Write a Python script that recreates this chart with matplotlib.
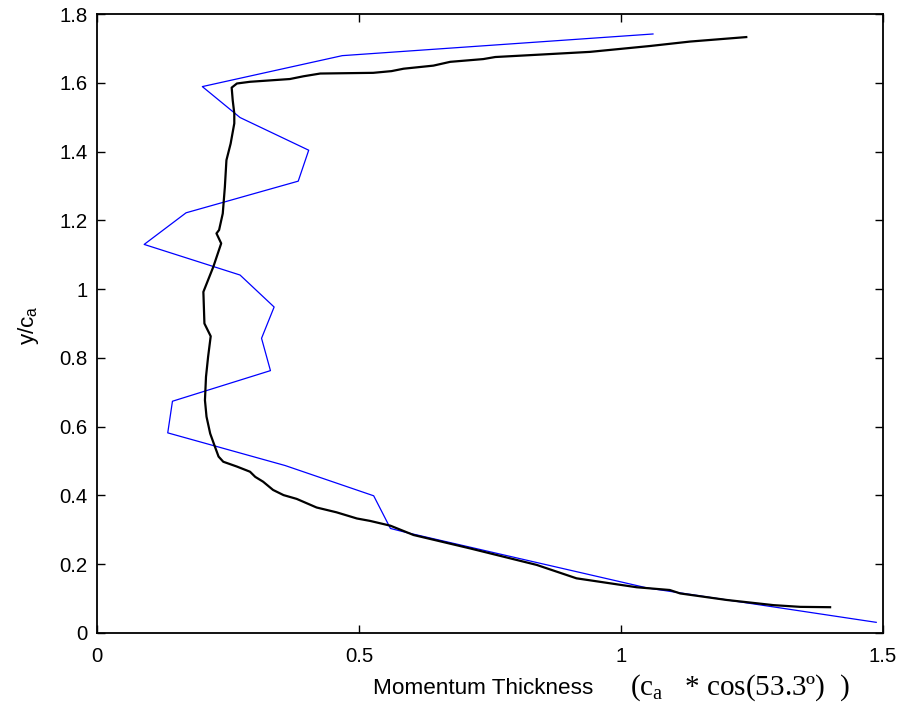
import matplotlib
matplotlib.use('Agg')
import matplotlib.pyplot as plt

plt.rcParams['font.family'] = ['Liberation Sans', 'DejaVu Sans']

# blue profile (coarse)
blue_x = [1.061, 0.468, 0.201, 0.273, 0.404, 0.384, 0.170, 0.090, 0.273, 0.338,
          0.314, 0.331, 0.144, 0.135, 0.359, 0.528, 0.560, 0.591, 1.050, 1.487]
blue_y = [1.742, 1.679, 1.589, 1.499, 1.404, 1.314, 1.222, 1.130, 1.041, 0.948,
          0.857, 0.763, 0.674, 0.582, 0.487, 0.399, 0.304, 0.292, 0.131, 0.031]

# black profile (fine)
black_x = [1.239, 1.132, 1.055, 0.941, 0.845, 0.760, 0.737, 0.674, 0.642, 0.585,
           0.562, 0.527, 0.426, 0.394, 0.368, 0.292, 0.267, 0.257, 0.259, 0.262,
           0.262, 0.255, 0.247, 0.244, 0.240, 0.233, 0.228, 0.237, 0.222, 0.203,
           0.205, 0.217, 0.212, 0.208, 0.206, 0.209, 0.216, 0.225, 0.232, 0.241,
           0.267, 0.292, 0.302, 0.317, 0.336, 0.356, 0.381, 0.419, 0.457, 0.496,
           0.521, 0.560, 0.604, 0.712, 0.839, 0.915, 1.030, 1.093, 1.113, 1.202,
           1.291, 1.342, 1.399]
black_y = [1.733, 1.720, 1.707, 1.690, 1.682, 1.675, 1.669, 1.661, 1.650, 1.641,
           1.634, 1.629, 1.627, 1.619, 1.611, 1.603, 1.598, 1.586, 1.549, 1.511,
           1.482, 1.423, 1.375, 1.297, 1.220, 1.172, 1.162, 1.133, 1.065, 0.992,
           0.900, 0.863, 0.803, 0.745, 0.677, 0.629, 0.580, 0.542, 0.513, 0.498,
           0.484, 0.469, 0.454, 0.440, 0.416, 0.401, 0.390, 0.365, 0.351, 0.333,
           0.326, 0.312, 0.285, 0.246, 0.198, 0.159, 0.133, 0.125, 0.115, 0.096,
           0.081, 0.076, 0.075]

x_ticks = [0, 0.5, 1, 1.5]
x_labels = ['0', '0.5', '1', '1.5']
y_ticks = [0, 0.2, 0.4, 0.6, 0.8, 1.0, 1.2, 1.4, 1.6, 1.8]
y_labels = ['0', '0.2', '0.4', '0.6', '0.8', '1', '1.2', '1.4', '1.6', '1.8']

fig = plt.figure(figsize=(9.04, 7.02), dpi=100)
ax = fig.add_axes([0.1073, 0.0983, 0.8695, 0.8817])

ax.plot(blue_x, blue_y, color='#0000ff', lw=0.9)
ax.plot(black_x, black_y, color='black', lw=1.6)

ax.set_xlim(0, 1.5)
ax.set_ylim(0, 1.8)
ax.set_xticks(x_ticks)
ax.set_xticklabels(x_labels)
ax.set_yticks(y_ticks)
ax.set_yticklabels(y_labels)
ax.tick_params(direction='in', length=6, width=1, labelsize=14.7,
               top=True, right=True)
ax.tick_params(axis='x', pad=10)
ax.tick_params(axis='y', pad=7)
for s in ax.spines.values():
    s.set_linewidth(1.3)

fig.text(0.031, 0.537, r'y/c$_\mathregular{a}$', fontsize=16.2, rotation=90,
         ha='center', va='center')

fig.text(0.4125, 0.011, 'Momentum Thickness', fontsize=16.2, ha='left', va='baseline')
fig.text(0.697, 0.011, r'(c$_\mathregular{a}$   * cos(53.3º)  )', fontsize=21,
         ha='left', va='baseline', family='Liberation Serif')

fig.savefig('out.png', dpi=100)
